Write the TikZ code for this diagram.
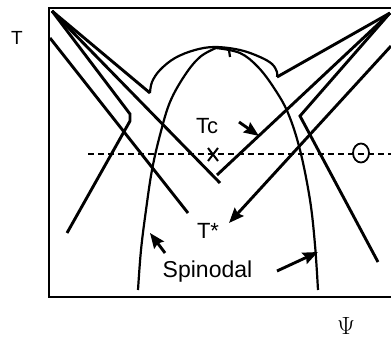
\documentclass[tikz,border=0pt]{standalone}
\usepackage{fontspec}
\setmainfont{Liberation Sans}
\usetikzlibrary{arrows.meta}
\begin{document}
\begin{tikzpicture}[x=1pt,y=-1pt,
  heavy/.style={line width=2.9pt,line join=miter},
  thin curve/.style={line width=2.2pt},
  pointer/.style={line width=2.9pt,-{Stealth[length=15pt,width=12pt,inset=2pt]}},
  lbl/.style={inner sep=0pt,font=\fontsize{22}{22}\selectfont}]
  \useasboundingbox (0,0) rectangle (391,339);
  % frame
  \draw[heavy] (391,8) -- (49,8) -- (49,297) -- (391,297);
  % corner points and cusps
  \coordinate (tl) at (52,11);
  \coordinate (tr) at (390,13);
  \coordinate (cuspL) at (150,93);
  \coordinate (cuspR) at (277,77);
  \coordinate (vL) at (220,183);
  \coordinate (vR) at (217,175);
  % left branches
  \draw[heavy] (tl) -- (cuspL);
  \draw[heavy] (tl) -- (vL);
  \draw[heavy] (tl) -- (130,114) -- (130,121) -- (67,233); % hook
  \draw[heavy] (50,38) -- (188,213);
  % right branches
  \draw[heavy] (tr) -- (cuspR);
  \draw[heavy] (tr) -- (vR);
  \draw[heavy] (tr) -- (300,116) -- (378,262); % hook
  % binodal dome
  \draw[thin curve] plot[smooth,tension=0.6] coordinates {(cuspL) (152,82) (160,70) (175,58) (195,50) (215,47) (240,50) (260,57) (272,64) (277,72) (cuspR)};
  % spinodal
  \draw[thin curve] plot[smooth,tension=0.6] coordinates {(138,290) (141,250) (146,210) (152,170) (160,135) (170,102) (185,75) (200,57) (216,48)};
  \draw[thin curve] plot[smooth,tension=0.6] coordinates {(216,48) (240,53) (258,67) (274,88) (288,113) (300,150) (310,200) (315,245) (318,290)};
  \draw[thin curve] (229,50) -- (230,57);
  % dashed isotherm
  \draw[line width=2pt,dash pattern=on 6pt off 4pt] (88,154) -- (391,154);
  \draw[line width=1.8pt] (361,153) ellipse [x radius=8pt,y radius=9.5pt];
  \draw[line width=2pt] (208,148) -- (218,161) (218,148) -- (208,161);
  % labels
  \node[lbl,font=\fontsize{19}{19}\selectfont] (taxis) at (17,38) {T};
  \node[lbl] (tc) at (207,126) {Tc};
  \node[lbl] (tstar) at (208,231) {T*};
  \node[lbl,font=\fontsize{23}{23}\selectfont,anchor=base] (spin) at (207.5,277) {Spinodal};
  \node[inner sep=0pt,font=\fontsize{24}{24}\selectfont] (psi) at (346,326) {$\Psi$};
  % pointers
  \coordinate (tcTail) at (239,122);
  \coordinate (tcTip) at (259,136);
  \coordinate (tsTail) at (391,46);
  \coordinate (tsTip) at (229,223);
  \coordinate (spLTail) at (165,253);
  \coordinate (spLTip) at (150,233);
  \coordinate (spRTail) at (277,271);
  \coordinate (spRTip) at (318,252);
  \draw[pointer] (tcTail) -- (tcTip);
  \draw[pointer] (tsTail) -- (tsTip);
  \draw[pointer] (spLTail) -- (spLTip);
  \draw[pointer] (spRTail) -- (spRTip);
\end{tikzpicture}
\end{document}
